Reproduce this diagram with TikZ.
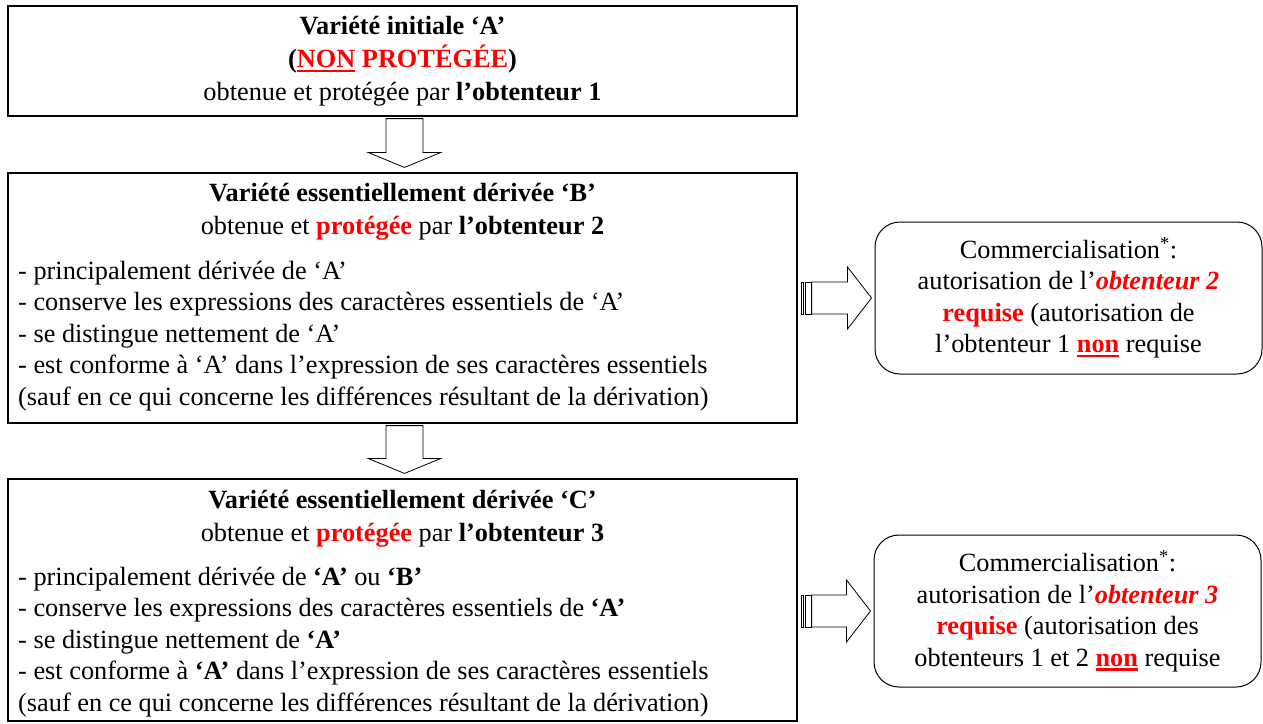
\documentclass[tikz,border=0pt]{standalone}
\usepackage{fontspec}
\setmainfont{Liberation Serif}
\usetikzlibrary{calc}
\newsavebox{\ulbox}
\newcommand{\rd}[1]{\textcolor{red}{#1}}
\newcommand{\rul}[1]{\textcolor{red}{\sbox{\ulbox}{#1}\rlap{\rule[-4.5pt]{\wd\ulbox}{2.2pt}}\usebox{\ulbox}}}
\begin{document}
\begin{tikzpicture}[x=1pt,y=-1pt,
    every node/.style={font=\fontsize{26.3}{32.8}\selectfont,inner sep=0pt},
    box/.style={draw,line width=1.2pt,minimum width=789pt},
    lst/.style={align=left,anchor=west,font=\fontsize{26.3}{31.5}\selectfont},
    rbox/.style={draw,line width=1pt,rounded corners=25pt,minimum width=387pt,
        minimum height=152pt,align=center,font=\fontsize{26.3}{31.5}\selectfont},
    blk/.style={draw,line width=.8pt,fill=white}]
    \useasboundingbox (0,0) rectangle (1263,723);
    \node[box,minimum height=110pt,align=center] (A) at (402.5,61)
        {\textbf{Variété initiale ‘A’}\\
         \textbf{(\rul{NON} \rd{PROTÉGÉE})}\\
         obtenue et protégée par \textbf{l’obtenteur 1}};
    \node[box,minimum height=250pt] (B) at (402.5,298) {};
    \node[align=center] (Btitle) at (402.5,212)
        {\textbf{Variété essentiellement dérivée ‘B’}\\
         obtenue et \rd{\textbf{protégée}} par \textbf{l’obtenteur 2}};
    \node[lst] (Blist) at (18,336)
        {- principalement dérivée de ‘A’\\
         - conserve les expressions des caractères essentiels de ‘A’\\
         - se distingue nettement de ‘A’\\
         - est conforme à ‘A’ dans l’expression de ses caractères essentiels\\
         (sauf en ce qui concerne les différences résultant de la dérivation)};
    \node[box,minimum height=242pt] (C) at (402.5,600) {};
    \node[align=center] (Ctitle) at (402.5,519)
        {\textbf{Variété essentiellement dérivée ‘C’}\\
         obtenue et \rd{\textbf{protégée}} par \textbf{l’obtenteur 3}};
    \node[lst] (Clist) at (18,642)
        {- principalement dérivée de \textbf{‘A’} ou \textbf{‘B’}\\
         - conserve les expressions des caractères essentiels de \textbf{‘A’}\\
         - se distingue nettement de \textbf{‘A’}\\
         - est conforme à \textbf{‘A’} dans l’expression de ses caractères essentiels\\
         (sauf en ce qui concerne les différences résultant de la dérivation)};
    \node[rbox] (R1) at (1068.5,298)
        {Commercialisation\textsuperscript{*}:\\
         autorisation de l’\rd{\textbf{\textit{obtenteur 2}}}\\
         \rd{\textbf{requise}} (autorisation de\\
         l’obtenteur 1 \rul{\textbf{non}} requise};
    \node[rbox] (R2) at (1067.5,611)
        {Commercialisation\textsuperscript{*}:\\
         autorisation de l’\rd{\textbf{\textit{obtenteur 3}}}\\
         \rd{\textbf{requise}} (autorisation des\\
         obtenteurs 1 et 2 \rul{\textbf{non}} requise};
    \foreach \p/\q in {A/B,B/C}
        \draw[blk] ($(\p.south)+(-16.5,2)$) -- ($(\p.south)+(20.5,2)$) --
            ($(\q.north)+(20.5,-20)$) -- ($(\q.north)+(38.5,-20)$) --
            ($(\q.north)+(2,-5)$) -- ($(\q.north)+(-34.5,-20)$) --
            ($(\q.north)+(-16.5,-20)$) -- cycle;
    \foreach \p/\q in {B/R1,C/R2} {
        \coordinate (o) at (\p.east |- \q.west);
        \draw[blk] ($(o)+(4,-16)$) rectangle ($(o)+(6,16)$);
        \draw[blk] ($(o)+(8,-16)$) rectangle ($(o)+(14,16)$);
        \draw[blk] ($(o)+(14,-16)$) -- ($(\q.west)+(-27,-16)$) --
            ($(\q.west)+(-27,-31)$) -- ($(\q.west)+(-3,0)$) --
            ($(\q.west)+(-27,31)$) -- ($(\q.west)+(-27,16)$) --
            ($(o)+(14,16)$) -- cycle;
    }
\end{tikzpicture}
\end{document}
